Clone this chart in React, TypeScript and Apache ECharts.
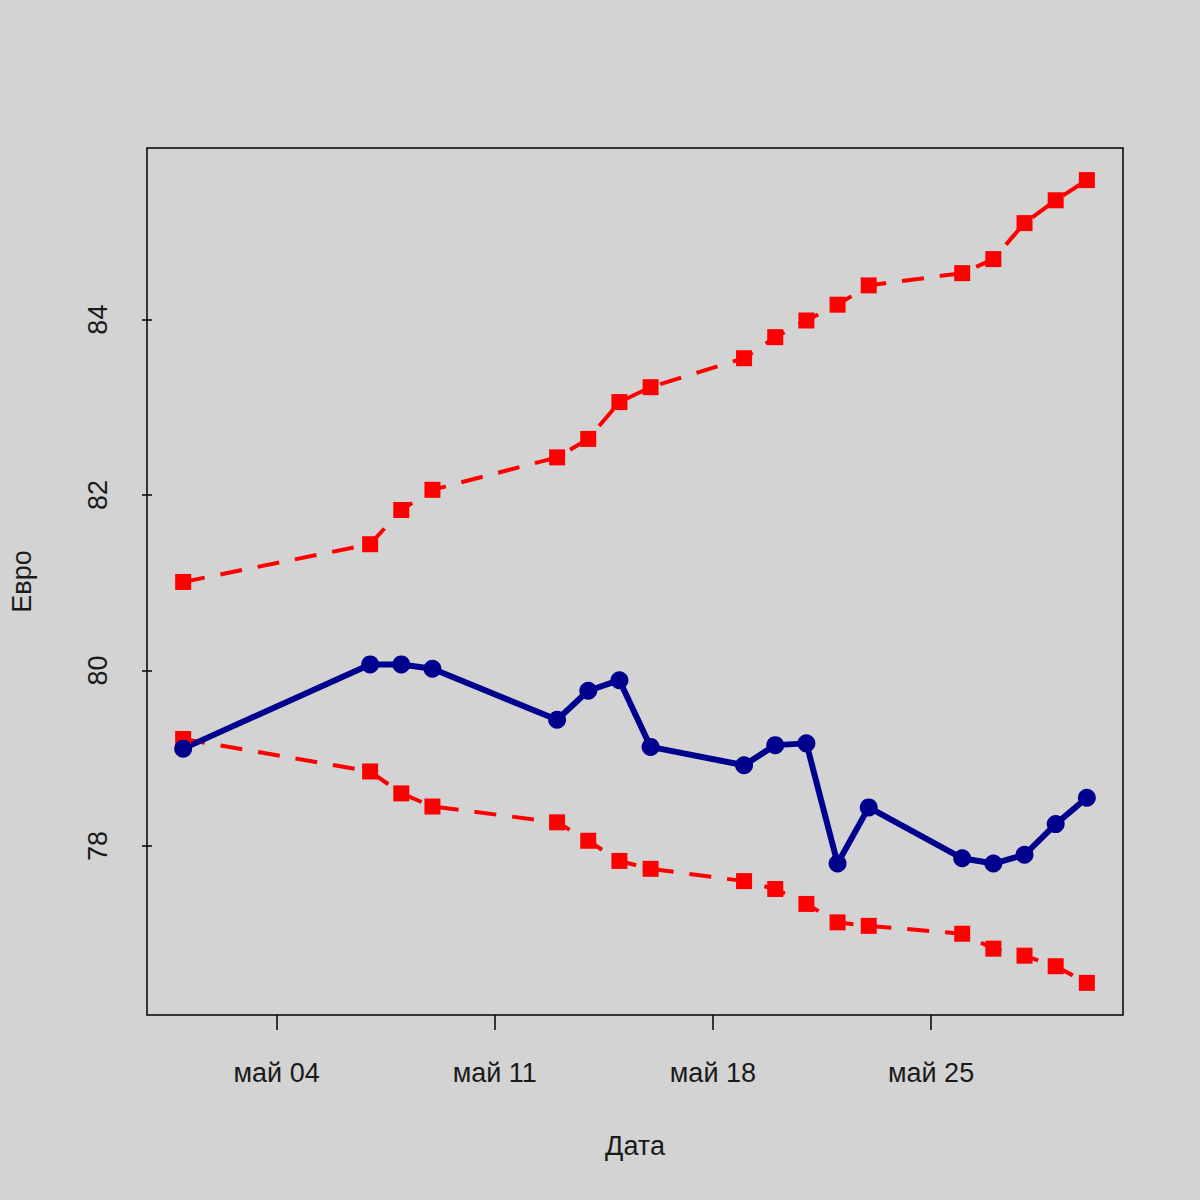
import React, { useEffect, useRef } from "react";
import * as echarts from "echarts";

// Day of May for each observation
const days = [1, 7, 8, 9, 13, 14, 15, 16, 19, 20, 21, 22, 23, 26, 27, 28, 29, 30];
const euro = [79.11, 80.07, 80.07, 80.02, 79.44, 79.77, 79.89, 79.13, 78.92, 79.15, 79.17, 77.8, 78.44, 77.86, 77.8, 77.9, 78.25, 78.55];
const upper = [81.01, 81.44, 81.83, 82.06, 82.43, 82.64, 83.06, 83.23, 83.56, 83.8, 83.99, 84.17, 84.39, 84.53, 84.69, 85.1, 85.36, 85.59];
const lower = [79.22, 78.85, 78.6, 78.45, 78.27, 78.06, 77.83, 77.74, 77.6, 77.51, 77.34, 77.13, 77.09, 77.0, 76.83, 76.75, 76.63, 76.44];
const xTicks = [4, 11, 18, 25];
const yTicks = [78, 80, 82, 84];
const monthLabel = "май";
const xTitle = "Дата";
const yTitle = "Евро";

const pad = (n: number) => (n < 10 ? "0" + n : String(n));

export default function App() {
  const ref = useRef<HTMLDivElement>(null);
  useEffect(() => {
    if (!ref.current) return;
    const chart = echarts.init(ref.current, null, { renderer: "svg" });
    const xr = days[days.length - 1] - days[0];
    const all = [...euro, ...upper, ...lower];
    const ymin = Math.min(...all);
    const ymax = Math.max(...all);
    const yr = ymax - ymin;
    const zip = (vals: number[]) => days.map((d, i) => [d, vals[i]]);
    const font = "Liberation Sans";
    chart.setOption({
      animation: false,
      backgroundColor: "#d3d3d3",
      grid: {
        left: 144,
        top: 148,
        right: 77,
        bottom: 185,
        show: true,
        borderColor: "#000",
        borderWidth: 1.5,
        backgroundColor: "transparent",
      },
      xAxis: {
        type: "value",
        min: days[0] - 0.04 * xr,
        max: days[days.length - 1] + 0.04 * xr,
        splitLine: { show: false },
        axisLine: { show: false },
        axisTick: { show: true, length: 15, lineStyle: { color: "#000", width: 1.5 }, customValues: xTicks },
        axisLabel: {
          customValues: xTicks,
          formatter: (v: number) => monthLabel + " " + pad(Math.round(v)),
          color: "#1a1a1a",
          fontSize: 27,
          fontFamily: font,
          margin: 44,
        },
        name: xTitle,
        nameLocation: "middle",
        nameGap: 117,
        nameTextStyle: { color: "#1a1a1a", fontSize: 27, fontFamily: font },
      },
      yAxis: {
        type: "value",
        min: ymin - 0.04 * yr,
        max: ymax + 0.04 * yr,
        splitLine: { show: false },
        axisLine: { show: false },
        axisTick: { show: true, length: 10, lineStyle: { color: "#000", width: 1.5 }, customValues: yTicks },
        axisLabel: {
          customValues: yTicks,
          rotate: 90,
          color: "#1a1a1a",
          fontSize: 27,
          fontFamily: font,
          margin: 49,
          verticalAlign: "middle",
          align: "center",
        },
        name: yTitle,
        nameLocation: "middle",
        nameGap: 112,
        nameRotate: 90,
        nameTextStyle: { color: "#1a1a1a", fontSize: 27, fontFamily: font },
      },
      series: [
        {
          type: "line",
          data: zip(upper),
          symbol: "rect",
          symbolSize: 16,
          itemStyle: { color: "#ff0000" },
          lineStyle: { color: "#ff0000", width: 4, type: [22, 16] },
        },
        {
          type: "line",
          data: zip(lower),
          symbol: "rect",
          symbolSize: 16,
          itemStyle: { color: "#ff0000" },
          lineStyle: { color: "#ff0000", width: 4, type: [22, 16] },
        },
        {
          type: "line",
          data: zip(euro),
          symbol: "circle",
          symbolSize: 18,
          itemStyle: { color: "#00008f" },
          lineStyle: { color: "#00008f", width: 6 },
        },
      ],
    });
    return () => chart.dispose();
  }, []);
  return (
    <div
      ref={ref}
      style={{ position: "fixed", left: 0, top: 0, width: 1200, height: 1200 }}
    />
  );
}
